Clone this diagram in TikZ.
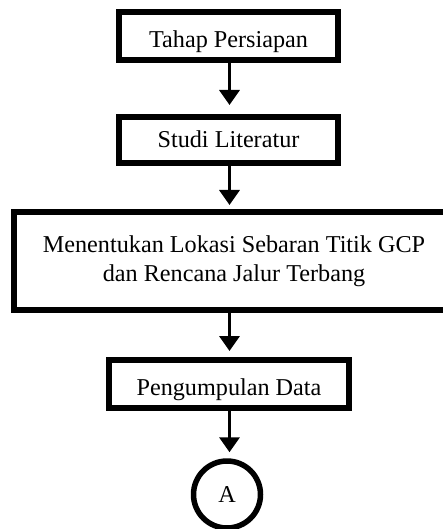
\documentclass[tikz,border=0pt]{standalone}
\usepackage{fontspec}
\setmainfont{Liberation Serif}
\usetikzlibrary{arrows.meta}
\begin{document}
\begin{tikzpicture}[x=1pt,y=-1pt,
  box/.style={draw=black, line width=6pt, rectangle, inner sep=0pt, fill=white},
  lbl/.style={inner sep=0pt, anchor=base, font=\fontsize{24.2}{28.5}\selectfont},
  conn/.style={line width=3.5pt, -{Triangle[width=20pt,length=15pt]}},
  every node/.style={font=\fontsize{24.2}{28.5}\selectfont}]
\path[use as bounding box, clip] (0,0) rectangle (443,529);
\node[box, minimum width=219pt, minimum height=48pt] (b1) at (228.5,36) {};
\node[lbl] (t1) at (228.5,47.3) {Tahap Persiapan};
\node[box, minimum width=219pt, minimum height=46pt] (b2) at (228.5,140) {};
\node[lbl] (t2) at (228.5,147.7) {Studi Literatur};
\node[box, minimum width=440pt, minimum height=98pt, align=center] (b3) at (234,261)
  {Menentukan Lokasi Sebaran Titik GCP\\dan Rencana Jalur Terbang};
\node[box, minimum width=240pt, minimum height=48pt] (b4) at (229,384) {};
\node[lbl] (t4) at (229,395) {Pengumpulan Data};
\node[draw=black, line width=5.5pt, circle, minimum size=67pt, inner sep=0pt] (c) at (227,494.5) {A};
\coordinate (ax) at (229.5,0);
\draw[conn, shorten >=9pt] (b1.south -| ax) -- (b2.north -| ax);
\draw[conn, shorten >=4pt] (b2.south -| ax) -- (b3.north -| ax);
\draw[conn, shorten >=6pt] (b3.south -| ax) -- (b4.north -| ax);
\draw[conn, shorten >=6pt] (b4.south -| ax) -- (c.north -| ax);
\end{tikzpicture}
\end{document}
